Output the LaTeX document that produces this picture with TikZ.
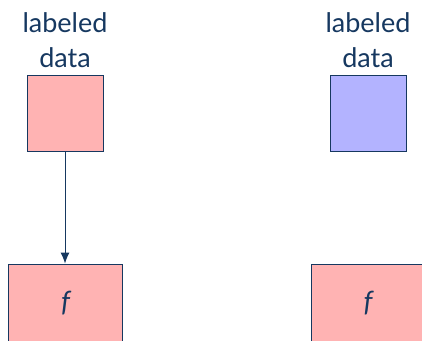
\documentclass[tikz,border=0pt]{standalone}
\usepackage{fontspec}
\setmainfont{Lato}
\usetikzlibrary{arrows.meta}
\definecolor{struct}{RGB}{22,56,96}
\definecolor{pinkfill}{RGB}{255,179,179}
\definecolor{bluefill}{RGB}{179,179,255}
\begin{document}
\begin{tikzpicture}[x=1pt,y=1pt,
  every node/.style={text=struct},
  sq/.style={draw=struct,line width=0.9pt,minimum width=76pt,minimum height=76pt,inner sep=0pt},
  fbox/.style={draw=struct,line width=0.9pt,fill=pinkfill,minimum width=114pt,minimum height=78pt,inner sep=0pt,font=\fontsize{28}{34}\selectfont\itshape},
  lbl/.style={align=center,inner sep=0pt,font=\fontsize{27}{35}\selectfont},
  arr/.style={draw=struct,line width=0.9pt,-{Latex[length=11pt,width=9pt]}}]
\useasboundingbox (0,0) rectangle (422,340);
\clip (0,0) rectangle (422,340);
\node[sq,fill=pinkfill] (ld1) at (65,226.5) {};
\node[sq,fill=bluefill] (ld2) at (368,226.5) {};
\node[lbl,anchor=south] (t1) at (65,272) {labeled\\data};
\node[lbl,anchor=south] (t2) at (368,272) {labeled\\data};
\node[fbox] (f1) at (65.5,37) {f};
\node[fbox] (f2) at (368,37) {f};
\draw[arr] (ld1.south) -- (ld1.south |- f1.north);
\end{tikzpicture}
\end{document}
